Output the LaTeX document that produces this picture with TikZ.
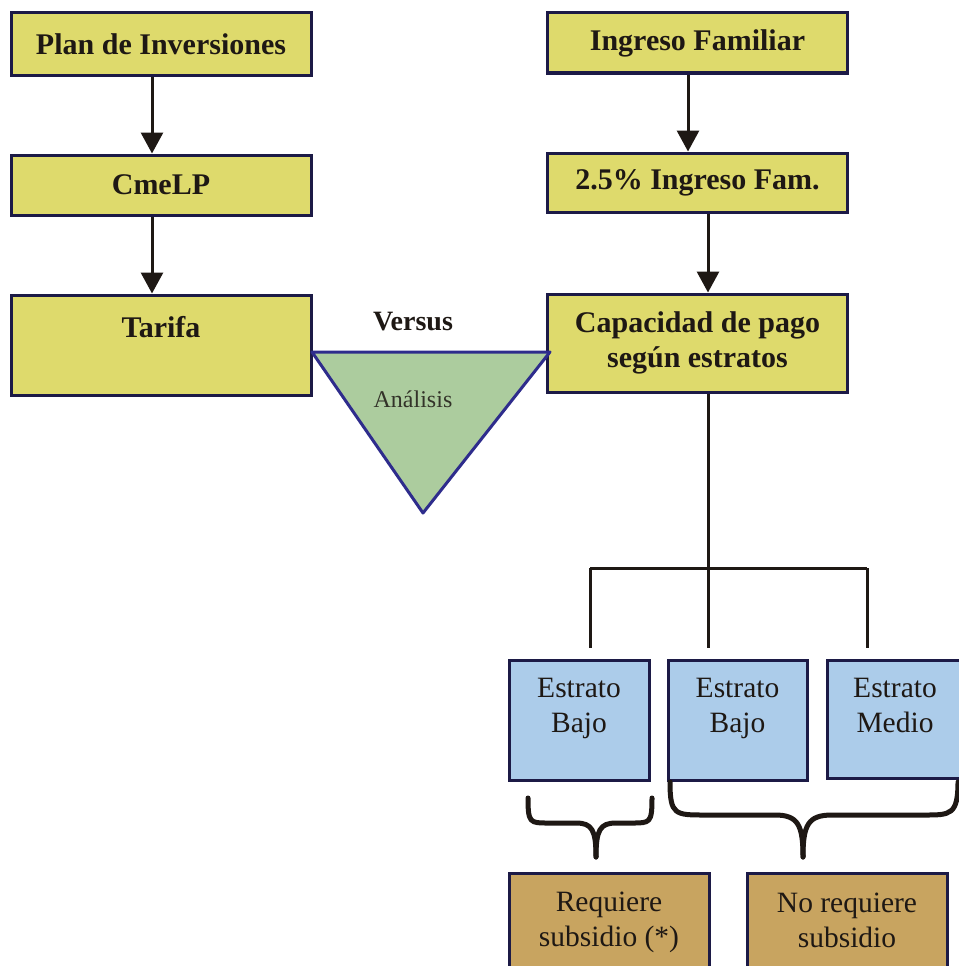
\documentclass[tikz,border=0pt]{standalone}
\usepackage{fontspec}
\setmainfont{Liberation Serif}
\usetikzlibrary{arrows.meta}

\definecolor{boxyellow}{RGB}{222,218,108}
\definecolor{triGreen}{RGB}{172,204,158}
\definecolor{boxblue}{RGB}{172,204,234}
\definecolor{boxbrown}{RGB}{200,164,96}
\definecolor{navy}{RGB}{28,26,70}
\definecolor{triEdge}{RGB}{46,44,140}
\definecolor{ink}{RGB}{30,24,20}

\tikzset{
  ybox/.style={draw=navy, line width=3pt, fill=boxyellow, minimum width=300pt,
    inner sep=0pt, font=\fontsize{30}{35}\selectfont\bfseries, text=ink, align=center},
  bbox/.style={draw=navy, line width=3pt, fill=boxblue, inner sep=0pt},
  brbox/.style={draw=navy, line width=3pt, fill=boxbrown, inner sep=0pt},
  lbl/.style={font=\fontsize{29.5}{35}\selectfont, text=ink, align=center, inner sep=0pt},
  flowarrow/.style={line width=3pt, draw=ink, -{Triangle[width=22pt,length=21pt]}},
  treeline/.style={line width=3pt, draw=ink},
  bracestroke/.style={line width=5pt, draw=ink, line cap=round, line join=round}
}

\begin{document}
\begin{tikzpicture}[x=1pt,y=-1pt]
\useasboundingbox (0,0) rectangle (958,966);
\fill[white] (0,0) rectangle (958,966);

% left column
\node[ybox, minimum height=62pt] (plan) at (161,44) {Plan de Inversiones};
\node[ybox, minimum height=60pt] (cmelp) at (161,185) {CmeLP};
\node[ybox, minimum height=100pt] (tarifa) at (161,345) {};
\node[ybox, draw=none, fill=none, minimum width=0pt] (tarifaText) at (161,327) {Tarifa};

% right column
\node[ybox, minimum height=60pt] (ingreso) at (697.5,43) {Ingreso Familiar};
\node[ybox, minimum height=59pt] (pct) at (697.5,182.5) {2.5\% Ingreso Fam.};
\node[ybox, minimum height=98pt] (capacidad) at (697.5,343) {Capacidad de pago\\seg\'un estratos};

% vertical flow arrows
\draw[flowarrow] ([xshift=-9pt]plan.south) -- ([xshift=-9pt]cmelp.north);
\draw[flowarrow] ([xshift=-9pt]cmelp.south) -- ([xshift=-9pt]tarifa.north);
\draw[flowarrow] ([xshift=-9.5pt]ingreso.south) -- ([xshift=-9.5pt]pct.north);
\draw[flowarrow] ([xshift=10.5pt]pct.south) -- ([xshift=10.5pt]capacidad.north);

% comparison triangle
\coordinate (triL) at (312,352);
\coordinate (triR) at (550,352);
\coordinate (triB) at (423,513);
\filldraw[fill=triGreen, draw=triEdge, line width=3pt, line join=round] (triL) -- (triR) -- (triB) -- cycle;
\node[font=\fontsize{28}{32}\selectfont\bfseries, text=ink] (versus) at (413,322) {Versus};
\node[font=\fontsize{24}{28}\selectfont, text=ink!85!triGreen] (analisis) at (413,399) {An\'alisis};

% strata boxes
\node[bbox, minimum width=140pt, minimum height=120pt] (est1) at (579,720) {};
\node[bbox, minimum width=139pt, minimum height=120pt] (est2) at (737.5,720) {};
\node[bbox, minimum width=136pt, minimum height=118pt] (est3) at (895,719) {};
\node[lbl] (est1Text) at (579,708) {Estrato\\Bajo};
\node[lbl] (est2Text) at (737.5,708) {Estrato\\Bajo};
\node[lbl] (est3Text) at (895,705) {Estrato\\Medio};

% tree from capacity to strata
\coordinate (split) at ([xshift=10.5pt]capacidad.south |- 0,568);
\coordinate (d1) at (590,568);
\coordinate (d3) at (867,568);
\draw[treeline] ([xshift=10.5pt]capacidad.south) -- (split);
\draw[treeline] (d1) -- (d3);
\draw[treeline] (d1) -- (590,648);
\draw[treeline] (split) -- (split |- 0,648);
\draw[treeline] (d3) -- (867,648);

% braces
\draw[bracestroke] (528,798) .. controls (528,823) and (530,823) .. (548,823) -- (576,823)
  .. controls (592,823) and (596,830) .. (596,857);
\draw[bracestroke] (652,798) .. controls (652,823) and (650,823) .. (632,823) -- (616,823)
  .. controls (600,823) and (596,830) .. (596,857);
\draw[bracestroke] (670,782) .. controls (670,815) and (675,815) .. (705,815) -- (775,815)
  .. controls (798,815) and (803,825) .. (803,857);
\draw[bracestroke] (958,782) .. controls (958,815) and (950,815) .. (925,815) -- (832,815)
  .. controls (808,815) and (803,825) .. (803,857);

% outcome boxes
\node[brbox, minimum width=200pt, minimum height=120pt, anchor=north] (req) at (609,872) {};
\node[brbox, minimum width=200pt, minimum height=120pt, anchor=north] (noreq) at (847,872) {};
\node[lbl] (reqText) at (609,922) {Requiere\\subsidio (*)};
\node[lbl] (noreqText) at (847,920) {No requiere\\subsidio};
\end{tikzpicture}
\end{document}
